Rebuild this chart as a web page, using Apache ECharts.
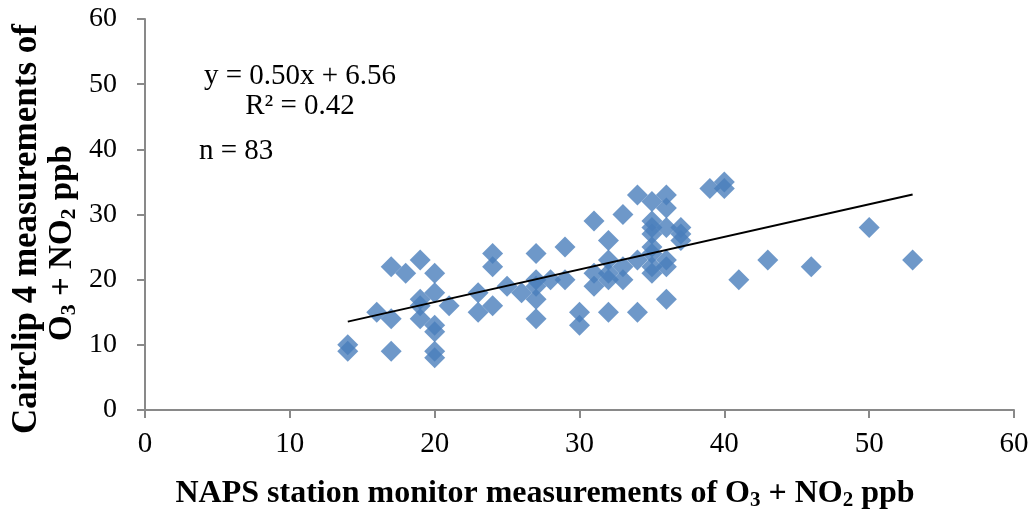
<!DOCTYPE html>
<html>
<head>
<meta charset="utf-8">
<script src="https://cdn.jsdelivr.net/npm/echarts@6/dist/echarts.min.js"></script>
<style>
html,body{margin:0;padding:0;background:#fff;}
#chart{width:1032px;height:514px;}
</style>
</head>
<body>
<div id="chart"></div>
<script>
// NAPS station monitor (x) vs Cairclip 4 (y), ppb
const napsValues = [14,14,16,17,17,17,18,19,19,19,19,20,20,20,20,20,20,21,23,23,24,24,24,25,26,27,27,27,27,27,28,29,29,30,30,31,31,31,32,32,32,32,32,33,33,33,34,34,34,35,35,35,35,35,35,35,35,36,36,36,36,36,36,37,37,37,39,40,40,41,43,46,50,53];
const cairclipValues = [10,9,15,22,14,9,21,23,17,16,14,21,18,13,12,9,8,16,18,15,24,22,16,19,18,24,20,19,17,14,20,25,20,15,13,29,21,19,26,23,21,20,15,30,22,20,33,23,15,32,29,28,27,25,24,22,21,33,31,28,23,22,17,28,27,26,34,35,34,20,23,22,28,23];
const axisTicks = [0,10,20,30,40,50,60];
const trendSlope = 0.50;
const trendIntercept = 6.56;
const trendXRange = [14, 53];
const equationText = 'y = 0.50x + 6.56';
const r2Text = 'R² = 0.42';
const nText = 'n = 83';

const serif = '"Liberation Serif", "Times New Roman", serif';
const points = napsValues.map((x, i) => [x, cairclipValues[i]]);
const trendData = trendXRange.map(x => [x, trendSlope * x + trendIntercept]);

const chart = echarts.init(document.getElementById('chart'));
const axisColor = '#898989';
const baseAxis = {
  min: axisTicks[0], max: axisTicks[axisTicks.length - 1], interval: 10,
  axisLine: {show: true, onZero: false, lineStyle: {color: axisColor, width: 2}},
  axisTick: {show: true, inside: false, length: 8, lineStyle: {color: axisColor, width: 2}},
  splitLine: {show: false}
};
const subStyle = {fontSize: 21, fontWeight: 'bold', fontFamily: serif, color: '#000', verticalAlign: 'bottom', padding: [13, 0, 0, 0]};
const mainStyle = {fontSize: 32, fontWeight: 'bold', fontFamily: serif, color: '#000'};
const mainStyleY = {fontSize: 35, fontWeight: 'bold', fontFamily: serif, color: '#000'};
const subStyleY = {fontSize: 22, fontWeight: 'bold', fontFamily: serif, color: '#000', verticalAlign: 'bottom', padding: [14, 0, 0, 0]};
const mainStyleY2 = {fontSize: 33, fontWeight: 'bold', fontFamily: serif, color: '#000'};
const noteFont = '29px ' + serif;

chart.setOption({
  animation: false,
  grid: {left: 145, right: 18, top: 19, bottom: 104, containLabel: false},
  xAxis: Object.assign({}, baseAxis, {
    type: 'value',
    axisLabel: {fontFamily: serif, fontSize: 29, color: '#000', margin: 20}
  }),
  yAxis: Object.assign({}, baseAxis, {
    type: 'value',
    axisLabel: {fontFamily: serif, fontSize: 28, color: '#000', margin: 28}
  }),
  series: [
    {
      type: 'scatter', data: points, symbol: 'diamond', symbolSize: 21,
      itemStyle: {color: '#4A7EBB'}, z: 2
    },
    {
      type: 'line', data: trendData, symbol: 'none',
      lineStyle: {color: '#000', width: 2}, z: 3
    }
  ],
  graphic: [
    {type: 'text', x: 300, y: 76, style: {text: equationText, font: noteFont, fill: '#000', textAlign: 'center', textVerticalAlign: 'middle'}},
    {type: 'text', x: 300, y: 106, style: {text: r2Text, font: noteFont, fill: '#000', textAlign: 'center', textVerticalAlign: 'middle'}},
    {type: 'text', x: 199, y: 151, style: {text: nText, font: noteFont, fill: '#000', textAlign: 'left', textVerticalAlign: 'middle'}},
    {type: 'text', x: 545, y: 494, style: {
      text: '{m|NAPS station monitor measurements of O}{s|3}{m| + NO}{s|2}{m| ppb}',
      textAlign: 'center', textVerticalAlign: 'middle',
      rich: {m: mainStyle, s: subStyle}
    }},
    {type: 'text', x: 27, y: 229, rotation: Math.PI / 2, style: {
      text: '{m|Cairclip 4 measurements of}',
      textAlign: 'center', textVerticalAlign: 'middle',
      rich: {m: mainStyleY}
    }},
    {type: 'text', x: 62, y: 243, rotation: Math.PI / 2, style: {
      text: '{m|O}{s|3}{m| + NO}{s|2}{m| ppb}',
      textAlign: 'center', textVerticalAlign: 'middle',
      rich: {m: mainStyleY2, s: subStyleY}
    }}
  ]
});
</script>
</body>
</html>
